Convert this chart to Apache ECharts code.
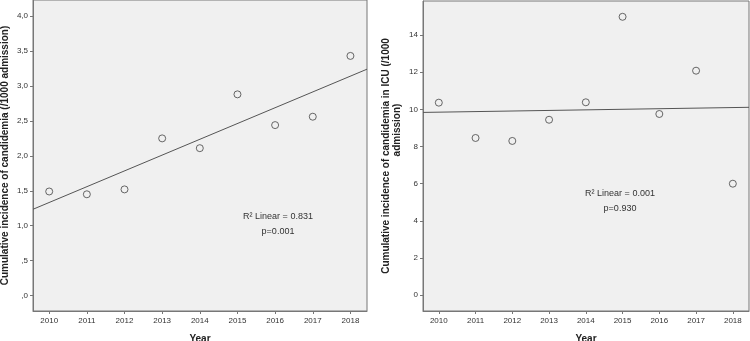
<!DOCTYPE html>
<html>
<head>
<meta charset="utf-8">
<script src="https://cdn.jsdelivr.net/npm/echarts@6/dist/echarts.min.js"></script>
<style>
  html, body { margin: 0; padding: 0; background: #fff; }
  #chart { width: 750px; height: 341px; }
</style>
</head>
<body>
<div id="chart"></div>
<script>
var years = [2010, 2011, 2012, 2013, 2014, 2015, 2016, 2017, 2018];
var incidenceAll = [1.49, 1.45, 1.52, 2.25, 2.11, 2.88, 2.44, 2.56, 3.43];
var incidenceIcu = [10.36, 8.46, 8.30, 9.44, 10.38, 14.98, 9.75, 12.08, 6.00];
var leftTicks = [0, 0.5, 1, 1.5, 2, 2.5, 3, 3.5, 4];
var rightTicks = [0, 2, 4, 6, 8, 10, 12, 14];

var xMin = 2009.57, xMax = 2018.44;
var font = 'Liberation Sans, Arial, sans-serif';
var edge = '#777';

// least squares fit
var fit = function (xs, ys) {
    var n = xs.length, mx = 0, my = 0;
    xs.forEach((x, i) => { mx += x; my += ys[i]; });
    mx /= n; my /= n;
    var sxy = 0, sxx = 0;
    xs.forEach((x, i) => { sxy += (x - mx) * (ys[i] - my); sxx += (x - mx) * (x - mx); });
    var b = sxy / sxx;
    return x => my + b * (x - mx);
}

var commaFmt = function (v) {
    return v.toFixed(1).replace('.', ',').replace(/^0/, '');
}

var nameStyle = { fontFamily: font, fontWeight: 'bold', fontSize: 10, color: '#222', lineHeight: 11 };

var xAxisOpt = function (idx) {
    return {
        type: 'value', gridIndex: idx, min: xMin, max: xMax,
        name: 'Year', nameLocation: 'middle', nameGap: 23,
        nameTextStyle: nameStyle,
        axisLine: { show: true, onZero: false, lineStyle: { color: edge } },
        axisTick: { show: true, length: 3, customValues: years, lineStyle: { color: edge } },
        axisLabel: { customValues: years, fontFamily: font, fontSize: 8, color: '#333', margin: 6,
            formatter: v => String(Math.round(v)) },
        splitLine: { show: false }
    };
}

var yAxisOpt = function (idx, min, max, ticks, fmt, name, gap, rich) {
    return {
        type: 'value', gridIndex: idx, min: min, max: max,
        name: name, nameLocation: 'middle', nameGap: gap,
        nameTextStyle: Object.assign({}, nameStyle, rich ? { rich: rich } : {}),
        axisLine: { show: true, onZero: false, lineStyle: { color: edge } },
        axisTick: { show: true, length: 3, customValues: ticks, lineStyle: { color: edge } },
        axisLabel: { customValues: ticks, fontFamily: font, fontSize: 8, color: '#333', margin: 5, formatter: fmt },
        splitLine: { show: false }
    };
}

var scatterSeries = function (idx, values) {
    return {
        type: 'scatter', xAxisIndex: idx, yAxisIndex: idx,
        data: years.map((y, i) => [y, values[i]]),
        symbol: 'circle', symbolSize: 7,
        itemStyle: { color: '#f0f0f0', borderColor: '#444', borderWidth: 1 },
        z: 3
    };
}

var fitSeries = function (idx, values) {
    var f = fit(years, values);
    return {
        type: 'line', xAxisIndex: idx, yAxisIndex: idx,
        data: [[xMin, f(xMin)], [xMax, f(xMax)]],
        symbol: 'none', lineStyle: { color: '#555', width: 1 }, z: 2
    };
}

var annot = function (x, y, text) {
    return {
        type: 'text', x: x, y: y,
        style: { text: text, fontFamily: font, fontSize: 9, fill: '#333', align: 'center', lineHeight: 15 }
    };
}

var chart = echarts.init(document.getElementById('chart'));
chart.setOption({
    backgroundColor: '#fff',
    animation: false,
    grid: [
        { left: 33, right: 383, top: 0, bottom: 30, show: true, backgroundColor: '#f0f0f0', borderColor: edge, borderWidth: 1, outerBoundsMode: 'none' },
        { left: 423, right: 1, top: 1, bottom: 30, show: true, backgroundColor: '#f0f0f0', borderColor: edge, borderWidth: 1, outerBoundsMode: 'none' }
    ],
    xAxis: [xAxisOpt(0), xAxisOpt(1)],
    yAxis: [
        yAxisOpt(0, -0.22, 4.23, leftTicks, commaFmt, 'Cumulative incidence of candidemia (/1000 admission)', 22),
        yAxisOpt(1, -0.85, 15.83, rightTicks, v => String(Math.round(v)),
            '{a|Cumulative incidence of candidemia in ICU (/1000}\n{b|admission)}', 20, {
                a: nameStyle,
                b: Object.assign({}, nameStyle, { padding: [0, 0, 0, 52] })
            })
    ],
    series: [
        scatterSeries(0, incidenceAll), fitSeries(0, incidenceAll),
        scatterSeries(1, incidenceIcu), fitSeries(1, incidenceIcu)
    ],
    graphic: [
        annot(278, 209, 'R² Linear = 0.831\np=0.001'),
        annot(620, 186, 'R² Linear = 0.001\np=0.930')
    ]
});
</script>
</body>
</html>
